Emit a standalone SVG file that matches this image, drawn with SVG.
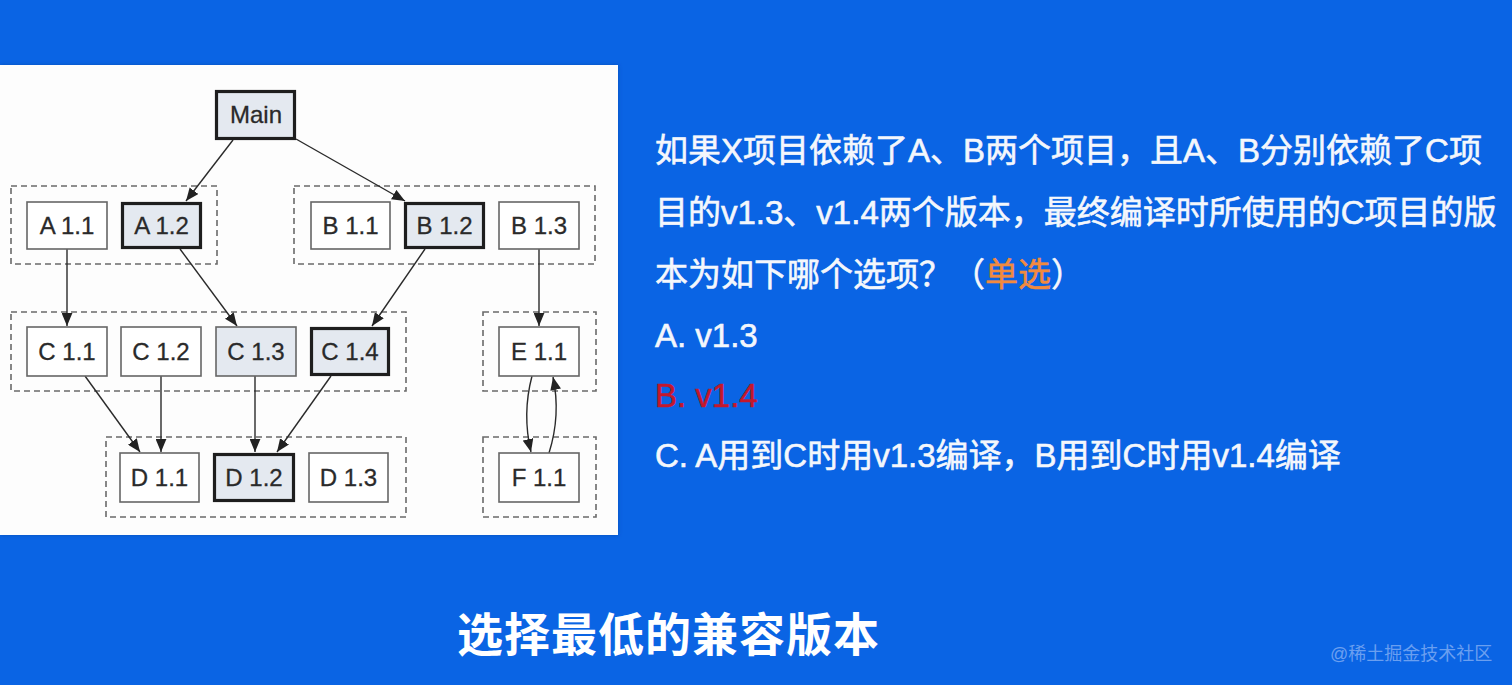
<svg xmlns="http://www.w3.org/2000/svg" width="1512" height="685" viewBox="0 0 1512 685">
<defs>
<marker id="ah" viewBox="0 0 12 10" refX="12" refY="5" markerWidth="13" markerHeight="11" markerUnits="userSpaceOnUse" orient="auto">
<path d="M0,0 L12,5 L0,10 Z" fill="#222"/>
</marker>
<filter id="sh" x="-5%" y="-5%" width="110%" height="110%">
<feDropShadow dx="0" dy="0" stdDeviation="2" flood-color="#0a3a90" flood-opacity="0.5"/>
</filter>
</defs>
<style>
.grp{fill:none;stroke:#6a6a6a;stroke-width:1.6;stroke-dasharray:6 4}
.n{fill:#ffffff;stroke:#666;stroke-width:1.6}
.nf{fill:#e4e9f0;stroke:#666;stroke-width:1.6}
.nt{fill:#e4e9f0;stroke:#1e1e1e;stroke-width:3.2}
.lb{font-family:"Liberation Sans",Arial,sans-serif;font-size:24px;fill:#2a2a2a;text-anchor:middle;stroke:#2a2a2a;stroke-width:0.3}
.e{fill:none;stroke:#2a2a2a;stroke-width:1.4;marker-end:url(#ah)}
.q{font-family:"Liberation Sans","Noto Sans CJK SC",sans-serif;font-size:33px;fill:#f4f7fc;stroke:#f4f7fc;stroke-width:0.6}
</style>
<rect x="0" y="0" width="1512" height="685" fill="#0a64e4"/>
<rect x="0" y="65" width="618" height="470" fill="#fdfdfd" filter="url(#sh)"/>

<g id="groups">
<rect class="grp" x="11" y="186" width="206" height="78"/>
<rect class="grp" x="294" y="186" width="301" height="78"/>
<rect class="grp" x="11" y="312" width="395" height="79"/>
<rect class="grp" x="106" y="437" width="300" height="80"/>
<rect class="grp" x="483" y="312" width="113" height="79"/>
<rect class="grp" x="483" y="437" width="113" height="80"/>
</g>

<g id="connectors">
<path class="e" d="M233,140 L186,201"/>
<path class="e" d="M296,139 L405,201"/>
<path class="e" d="M67,249 L67,326"/>
<path class="e" d="M180,249 L237,326"/>
<path class="e" d="M425,249 L372,326"/>
<path class="e" d="M539,249 L539,326"/>
<path class="e" d="M85,376 L140,452"/>
<path class="e" d="M161,376 L161,452"/>
<path class="e" d="M255,376 L255,452"/>
<path class="e" d="M331,376 L277,452"/>
<path class="e" d="M532,376 Q522,414 531,452"/>
<path class="e" d="M549,453 Q561,415 553,377"/>
</g>

<g id="Main"><rect class="nt" x="216.5" y="91.5" width="78" height="47"/><text class="lb" x="256" y="123">Main</text></g>
<g id="A11"><rect class="n" x="27" y="202" width="80" height="47"/><text class="lb" x="67" y="234">A 1.1</text></g>
<g id="A12"><rect class="nt" x="122.5" y="203.5" width="78" height="44"/><text class="lb" x="161.5" y="234">A 1.2</text></g>
<g id="B11"><rect class="n" x="311" y="202" width="79" height="47"/><text class="lb" x="350.5" y="234">B 1.1</text></g>
<g id="B12"><rect class="nt" x="405.5" y="203.5" width="78" height="44"/><text class="lb" x="444.5" y="234">B 1.2</text></g>
<g id="B13"><rect class="n" x="499" y="202" width="80" height="47"/><text class="lb" x="539" y="234">B 1.3</text></g>
<g id="C11"><rect class="n" x="27" y="327" width="80" height="49"/><text class="lb" x="67" y="360">C 1.1</text></g>
<g id="C12"><rect class="n" x="121" y="327" width="80" height="49"/><text class="lb" x="161" y="360">C 1.2</text></g>
<g id="C13"><rect class="nf" x="216" y="327" width="80" height="49"/><text class="lb" x="256" y="360">C 1.3</text></g>
<g id="C14"><rect class="nt" x="311.5" y="328.5" width="77" height="46"/><text class="lb" x="350" y="360">C 1.4</text></g>
<g id="D11"><rect class="n" x="120" y="453" width="79" height="49"/><text class="lb" x="159.5" y="486">D 1.1</text></g>
<g id="D12"><rect class="nt" x="214.5" y="454.5" width="79" height="46"/><text class="lb" x="254" y="486">D 1.2</text></g>
<g id="D13"><rect class="n" x="309" y="453" width="79" height="49"/><text class="lb" x="348.5" y="486">D 1.3</text></g>
<g id="E11"><rect class="n" x="499" y="327" width="80" height="49"/><text class="lb" x="539" y="360">E 1.1</text></g>
<g id="F11"><rect class="n" x="499" y="453" width="80" height="49"/><text class="lb" x="539" y="486">F 1.1</text></g>

<g id="question">
<text class="q" x="655" y="162">如果X项目依赖了A、B两个项目，且A、B分别依赖了C项</text>
<text class="q" x="655" y="224">目的v1.3、v1.4两个版本，最终编译时所使用的C项目的版</text>
<text class="q" x="655" y="286">本为如下哪个选项？（<tspan fill="#f28a3e" stroke="#f28a3e">单选</tspan>）</text>
<text class="q" x="655" y="347">A. v1.3</text>
<text class="q" x="655" y="407" style="fill:#c4172c;stroke:#c4172c">B. v1.4</text>
<text class="q" x="655" y="467">C. A用到C时用v1.3编译，B用到C时用v1.4编译</text>
</g>

<text x="457" y="651" font-family="'Noto Sans CJK SC',sans-serif" font-size="46" font-weight="bold" letter-spacing="1" fill="#ffffff">选择最低的兼容版本</text>
<text x="1330" y="660" font-family="'Liberation Sans','Noto Sans CJK SC',sans-serif" font-size="18" fill="#6a9ff0">@稀土掘金技术社区</text>
</svg>
